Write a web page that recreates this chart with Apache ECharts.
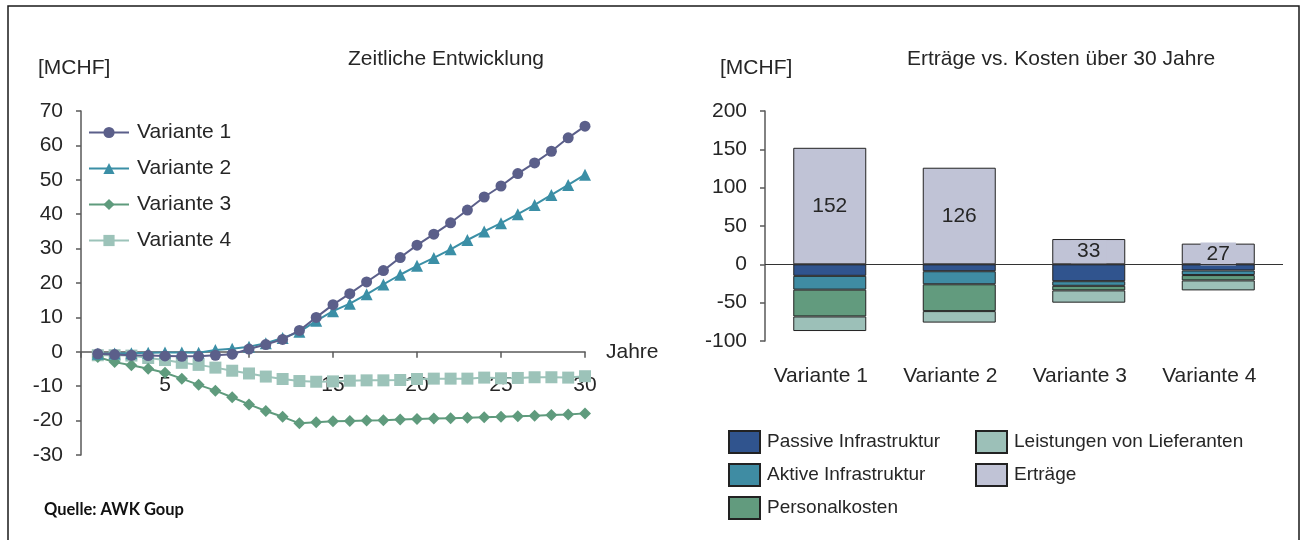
<!DOCTYPE html>
<html>
<head>
<meta charset="utf-8">
<title>Zeitliche Entwicklung / Erträge vs. Kosten</title>
<script src="https://cdn.jsdelivr.net/npm/echarts@6/dist/echarts.min.js"></script>
<style>
  html, body { margin: 0; padding: 0; background: #fff; }
  #chart { width: 1306px; height: 540px; }
</style>
</head>
<body>
<div id="chart"></div>
<script>
// ---- Left chart: cumulative result per year [MCHF] ----
const years = [1, 2, 3, 4, 5, 6, 7, 8, 9, 10, 11, 12, 13, 14, 15,
               16, 17, 18, 19, 20, 21, 22, 23, 24, 25, 26, 27, 28, 29, 30];
const variante1 = [-0.6, -0.8, -1.0, -1.1, -1.2, -1.3, -1.3, -1.0, -0.7, 0.8,
                   2.1, 3.6, 6.2, 10.0, 13.7, 16.9, 20.3, 23.6, 27.4, 31.0,
                   34.2, 37.5, 41.2, 45.0, 48.2, 51.8, 54.9, 58.3, 62.2, 65.6];
const variante2 = [-0.6, -0.5, -0.4, -0.3, -0.2, -0.2, -0.3, 0.5, 0.9, 1.5,
                   2.5, 4.0, 5.8, 9.0, 11.8, 14.0, 16.7, 19.6, 22.4, 25.0,
                   27.3, 29.8, 32.5, 35.0, 37.4, 40.0, 42.7, 45.6, 48.5, 51.5];
const variante3 = [-1.5, -3.0, -3.9, -4.9, -6.1, -7.8, -9.6, -11.3, -13.2, -15.3,
                   -17.2, -18.9, -20.8, -20.5, -20.2, -20.1, -20.0, -19.9, -19.7, -19.5,
                   -19.4, -19.3, -19.2, -19.0, -18.9, -18.7, -18.6, -18.4, -18.2, -17.9];
const variante4 = [-1.0, -1.0, -1.1, -1.8, -2.4, -3.2, -3.8, -4.6, -5.5, -6.3,
                   -7.2, -7.9, -8.5, -8.7, -8.6, -8.4, -8.3, -8.3, -8.2, -7.9,
                   -7.8, -7.8, -7.8, -7.5, -7.7, -7.6, -7.4, -7.4, -7.5, -7.1];
const lineNames = ['Variante 1', 'Variante 2', 'Variante 3', 'Variante 4'];
// year labels printed under the time axis
const yearTickLabels = { 5: '5', 15: '15', 20: '20', 25: '25', 30: '30' };

// ---- Right chart: revenues vs. costs over 30 years [MCHF] ----
const variants = ['Variante 1', 'Variante 2', 'Variante 3', 'Variante 4'];
const passiveInfra = [-15, -9, -22, -8];
const aktiveInfra = [-18, -17, -6, -6];
const personalkosten = [-35, -35, -6, -7];
const lieferanten = [-19, -15, -16, -13];
const ertraege = [152, 126, 33, 27];

const FONT = '"Liberation Sans", Arial, sans-serif';
const TEXT = '#262626';
const AXIS = '#595959';
const FS = 21;

const lineColors = ['#5b5f8a', '#3b8fa6', '#5f9b7d', '#9cc3b9'];
const lineSymbols = ['circle', 'triangle', 'diamond', 'rect'];
const lineSymbolSizes = [11, 12, 12, 12];
const lineData = [variante1, variante2, variante3, variante4];

const barColors = {
  'Passive Infrastruktur': '#30548e',
  'Aktive Infrastruktur': '#3f8ca3',
  'Personalkosten': '#629b7e',
  'Leistungen von Lieferanten': '#9cc0b8',
  'Erträge': '#c0c3d6'
};

const lineSeries = lineNames.map((name, k) => ({
  name,
  type: 'line',
  xAxisIndex: 0,
  yAxisIndex: 0,
  data: years.map((y, i) => [y, lineData[k][i]]),
  symbol: lineSymbols[k],
  symbolSize: lineSymbolSizes[k],
  color: lineColors[k],
  lineStyle: { width: 2, color: lineColors[k] },
  itemStyle: { color: lineColors[k] },
  z: 3 + (lineNames.length - k)
}));

function costSeries(name, data) {
  return {
    name,
    type: 'bar',
    xAxisIndex: 1,
    yAxisIndex: 1,
    stack: 'total',
    barWidth: 73,
    data,
    itemStyle: { color: barColors[name], borderColor: '#222', borderWidth: 1 }
  };
}

const barSeries = [
  costSeries('Passive Infrastruktur', passiveInfra),
  costSeries('Aktive Infrastruktur', aktiveInfra),
  costSeries('Personalkosten', personalkosten),
  costSeries('Leistungen von Lieferanten', lieferanten),
  {
    name: 'Erträge',
    type: 'bar',
    xAxisIndex: 1,
    yAxisIndex: 1,
    stack: 'total',
    barWidth: 73,
    data: ertraege,
    itemStyle: { color: barColors['Erträge'], borderColor: '#222', borderWidth: 1 },
    label: {
      show: true,
      position: 'inside',
      fontFamily: FONT,
      fontSize: FS,
      color: TEXT,
      backgroundColor: barColors['Erträge'],
      padding: [1, 6]
    },
    markLine: {
      silent: true,
      symbol: 'none',
      label: { show: false },
      lineStyle: { color: '#333', type: 'solid', width: 1 },
      data: [{ yAxis: 0 }]
    }
  }
];

const chart = echarts.init(document.getElementById('chart'), null, { renderer: 'canvas' });

const plainText = (size) => ({ fontFamily: FONT, fontSize: size, fontWeight: 'normal', color: TEXT });

chart.setOption({
  animation: false,
  backgroundColor: '#fff',
  textStyle: { fontFamily: FONT },
  graphic: [{
    type: 'rect',
    shape: { x: 8, y: 6, width: 1291, height: 560 },
    style: { fill: 'none', stroke: '#1a1a1a', lineWidth: 1.5 },
    silent: true,
    z: 100
  }],
  title: [
    { text: 'Zeitliche Entwicklung', left: 441, top: 44, textAlign: 'center', textStyle: plainText(FS) },
    { text: '[MCHF]', left: 33, top: 53, textStyle: plainText(FS) },
    { text: 'Erträge vs. Kosten über 30 Jahre', left: 1056, top: 44, textAlign: 'center', textStyle: plainText(FS) },
    { text: '[MCHF]', left: 715, top: 53, textStyle: plainText(FS) },
    { text: 'Quelle: AWK Goup', left: 39, top: 496,
      textStyle: { fontFamily: 'Lato, "Open Sans", sans-serif', fontSize: 16.5, fontWeight: 'bold', color: '#111' } }
  ],
  legend: [
    {
      data: lineNames,
      orient: 'vertical',
      left: 88,
      top: 122,
      padding: 0,
      itemWidth: 40,
      itemHeight: 14,
      itemGap: 15,
      textStyle: { fontFamily: FONT, fontSize: FS, color: TEXT, padding: [0, 0, 0, 3] },
      selectedMode: false
    },
    {
      data: ['Passive Infrastruktur', 'Aktive Infrastruktur', 'Personalkosten'],
      orient: 'vertical',
      left: 723,
      top: 425,
      icon: 'rect',
      itemWidth: 31,
      itemHeight: 22,
      itemGap: 9,
      textStyle: { fontFamily: FONT, fontSize: 19, color: TEXT, padding: [0, 0, 0, 2] },
      selectedMode: false
    },
    {
      data: ['Leistungen von Lieferanten', 'Erträge'],
      orient: 'vertical',
      left: 970,
      top: 425,
      icon: 'rect',
      itemWidth: 31,
      itemHeight: 22,
      itemGap: 9,
      textStyle: { fontFamily: FONT, fontSize: 19, color: TEXT, padding: [0, 0, 0, 2] },
      selectedMode: false
    }
  ],
  grid: [
    { left: 81, right: 721, top: 111, bottom: 85, containLabel: false },
    { left: 765, right: 23, top: 111, bottom: 199, containLabel: false }
  ],
  xAxis: [
    {
      gridIndex: 0,
      type: 'value',
      min: 0,
      max: 30,
      interval: 5,
      name: 'Jahre',
      nameLocation: 'end',
      nameGap: 21,
      nameTextStyle: { fontFamily: FONT, fontSize: FS, color: TEXT, verticalAlign: 'middle' },
      axisLine: { onZero: true, lineStyle: { color: AXIS, width: 1.5 } },
      axisTick: { show: true, inside: false, length: 6, lineStyle: { color: AXIS, width: 1.5 } },
      axisLabel: {
        fontFamily: FONT, fontSize: FS, color: TEXT, margin: -80,
        formatter: v => yearTickLabels[v] || ''
      },
      splitLine: { show: false }
    },
    {
      gridIndex: 1,
      type: 'category',
      data: variants,
      axisLine: { show: false, onZero: false },
      axisTick: { show: false },
      axisLabel: { fontFamily: FONT, fontSize: FS, color: TEXT, margin: 25, padding: [0, 18, 0, 0] },
      splitLine: { show: false }
    }
  ],
  yAxis: [
    {
      gridIndex: 0,
      type: 'value',
      min: -30,
      max: 70,
      interval: 10,
      axisLine: { show: true, onZero: false, lineStyle: { color: AXIS, width: 1.5 } },
      axisTick: { show: true, inside: false, length: 5, lineStyle: { color: AXIS, width: 1.5 } },
      axisLabel: { fontFamily: FONT, fontSize: FS, color: TEXT, margin: 18 },
      splitLine: { show: false }
    },
    {
      gridIndex: 1,
      type: 'value',
      min: -100,
      max: 200,
      interval: 50,
      axisLine: { show: true, onZero: false, lineStyle: { color: AXIS, width: 1.5 } },
      axisTick: { show: true, inside: false, length: 5, lineStyle: { color: AXIS, width: 1.5 } },
      axisLabel: { fontFamily: FONT, fontSize: FS, color: TEXT, margin: 18 },
      splitLine: { show: false }
    }
  ],
  series: [...lineSeries, ...barSeries]
});
</script>
</body>
</html>
